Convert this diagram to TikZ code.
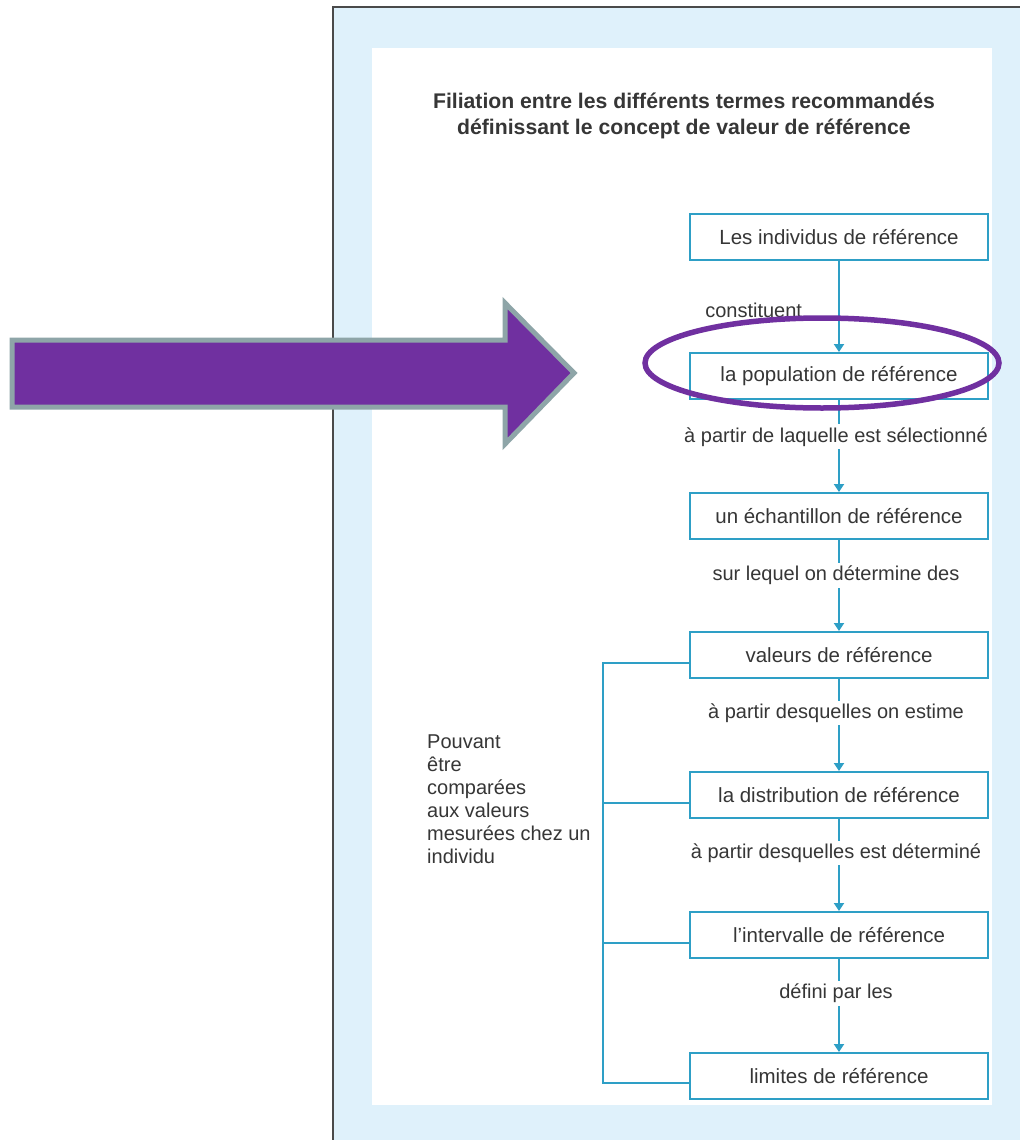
\documentclass[tikz,border=0pt]{standalone}
\usepackage{fontspec}
\setmainfont{Liberation Sans}
\usetikzlibrary{arrows.meta,shapes.geometric}
\definecolor{panelblue}{HTML}{DFF1FB}
\definecolor{frameline}{HTML}{4A4A4A}
\definecolor{flowblue}{HTML}{2E9FC6}
\definecolor{inktext}{HTML}{363636}
\definecolor{mauve}{HTML}{7030A0}
\definecolor{arrowrim}{HTML}{8EA5A8}
\tikzset{
  termbox/.style={draw=flowblue, line width=2pt, fill=white, minimum width=298pt,
    minimum height=46pt, inner sep=0pt, text=inktext,
    font=\fontsize{20.5}{23}\selectfont},
  conn/.style={draw=flowblue, line width=2pt},
  flowarrow/.style={conn, -{Triangle[width=10pt,length=8pt]}},
  lab/.style={fill=white, inner sep=3pt, text=inktext,
    font=\fontsize{20}{23}\selectfont},
}
\begin{document}
\begin{tikzpicture}[x=1pt,y=-1pt]
\useasboundingbox (0,0) rectangle (1020,1140);

% framed panel
\fill[panelblue] (333,7) rectangle (1020,1140);
\draw[frameline, line width=2.5pt] (333,1140) -- (333,7) -- (1020,7);
\fill[white] (372,48) rectangle (992,1105);

% heading
\node[text=inktext, align=center, font=\bfseries\fontsize{21.2}{26}\selectfont]
  (title) at (684,116) {Filiation entre les différents termes recommandés\\
  définissant le concept de valeur de référence};

% chain of terms
\node[termbox] (b1) at (839,237)  {Les individus de référence};
\node[termbox] (b2) at (839,376)  {la population de référence};
\node[termbox] (b3) at (839,516)  {un échantillon de référence};
\node[termbox] (b4) at (839,655)  {valeurs de référence};
\node[termbox] (b5) at (839,795)  {la distribution de référence};
\node[termbox] (b6) at (839,935)  {l'intervalle de référence};
\node[termbox] (b7) at (839,1076) {limites de référence};

\draw[flowarrow] (b1) -- node[pos=0.54, text=inktext, anchor=east, xshift=-36pt,
  font=\fontsize{20}{23}\selectfont, inner sep=0pt] (l1) {constituent} (b2);
\draw[flowarrow] (b2) -- node[lab, pos=0.4, xshift=-3pt] (l2) {à partir de laquelle est sélectionné} (b3);
\draw[flowarrow] (b3) -- node[lab, pos=0.39, xshift=-3pt] (l3) {sur lequel on détermine des} (b4);
\draw[flowarrow] (b4) -- node[lab, pos=0.37, xshift=-3pt] (l4) {à partir desquelles on estime} (b5);
\draw[flowarrow] (b5) -- node[lab, pos=0.37, xshift=-3pt] (l5) {à partir desquelles est déterminé} (b6);
\draw[flowarrow] (b6) -- node[lab, pos=0.37, xshift=-3pt] (l6) {défini par les} (b7);

% bracket gathering the comparable terms
\coordinate (k4) at (603,663);
\coordinate (k5) at (603,803);
\coordinate (k6) at (603,943);
\coordinate (k7) at (603,1083);
\draw[conn] (k4 -| b4.west) -- (k4) -- (k7) -- (k7 -| b7.west);
\draw[conn] (k5) -- (k5 -| b5.west);
\draw[conn] (k6) -- (k6 -| b6.west);

\node[anchor=north west, align=left, text=inktext, inner sep=0pt,
  font=\fontsize{20}{23}\selectfont] (side) at (427,735)
  {Pouvant\\être\\comparées\\aux valeurs\\mesurées chez un\\individu};

% highlight marks
\draw[mauve, line width=5.5pt] (822,363) ellipse [x radius=177, y radius=45];
\draw[fill=mauve, draw=arrowrim, line width=5pt, line join=miter]
  (12,340) -- (505,340) -- (505,303) -- (574,373) -- (505,444) -- (505,407) -- (12,407) -- cycle;
\end{tikzpicture}
\end{document}
